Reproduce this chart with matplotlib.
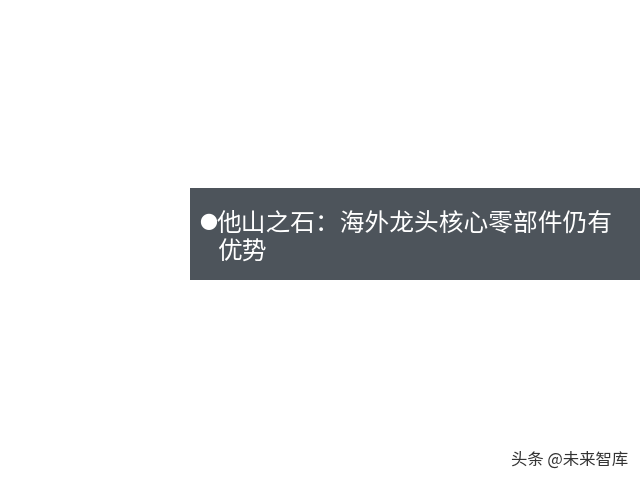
import matplotlib
matplotlib.use("Agg")
import matplotlib.pyplot as plt
from matplotlib.patches import Rectangle

plt.rcParams['font.family'] = ['Noto Sans CJK SC', 'DejaVu Sans']

bullet = "●"
title_line1 = "他山之石：海外龙头核心零部件仍有"
title_line2 = "优势"
watermark = "头条 @未来智库"

W, H = 640, 480
fig = plt.figure(figsize=(6.4, 4.8), dpi=100)
fig.patch.set_facecolor("white")

def px(x, y):
    return x / W, 1 - y / H

# dark banner
x0, y0 = px(190, 280)
fig.patches.append(Rectangle((x0, y0), (640 - 190) / W, (280 - 188) / H,
                             transform=fig.transFigure, facecolor="#4d545b",
                             edgecolor="none"))

fs = 17.8
fig.text(*px(199, 224), bullet, color="white", fontsize=13, va="center", ha="left")
fig.text(*px(217, 224), title_line1, color="white", fontsize=fs, va="center", ha="left")
fig.text(*px(217, 253), title_line2, color="white", fontsize=fs, va="center", ha="left")

fig.text(*px(628, 460), watermark, color="#333333", fontsize=11.8, va="center", ha="right")

fig.savefig("out.png", dpi=100, facecolor="white")
